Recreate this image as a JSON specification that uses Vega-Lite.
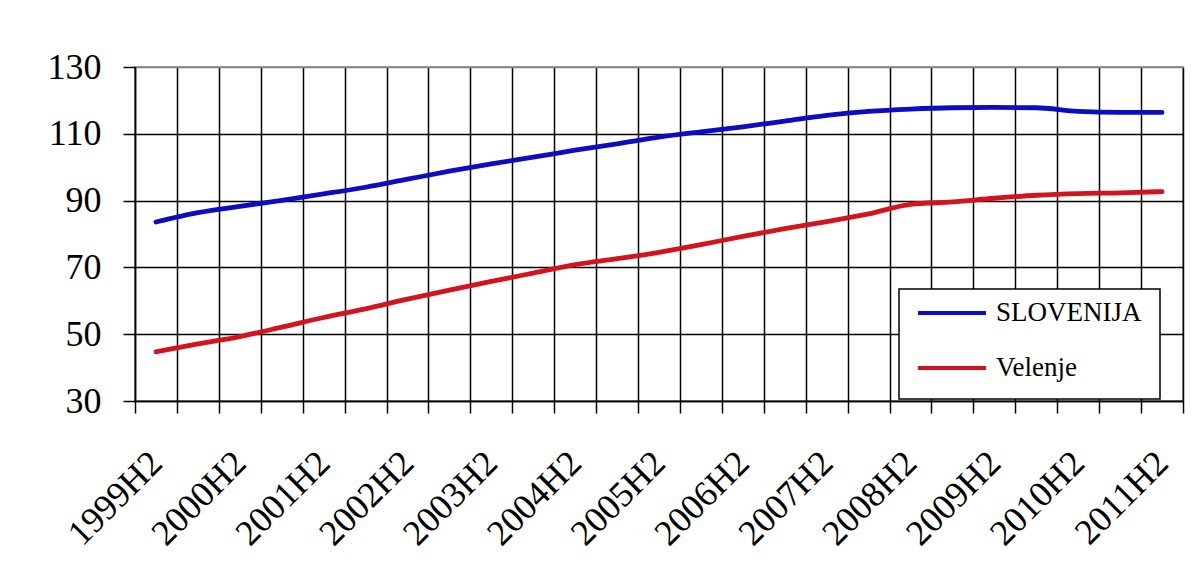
{
  "$schema": "https://vega.github.io/schema/vega-lite/v6.json",
  "width": 1048,
  "height": 334,
  "autosize": {"type": "none"},
  "padding": {"left": 135, "top": 67, "right": 21, "bottom": 187},
  "background": "white",
  "data": {
    "values": [
      {"period": "1999H2", "series": "SLOVENIJA", "value": 83.6},
      {"period": "2000H1", "series": "SLOVENIJA", "value": 86.4},
      {"period": "2000H2", "series": "SLOVENIJA", "value": 88.3},
      {"period": "2001H1", "series": "SLOVENIJA", "value": 90.1},
      {"period": "2001H2", "series": "SLOVENIJA", "value": 92.0},
      {"period": "2002H1", "series": "SLOVENIJA", "value": 94.0},
      {"period": "2002H2", "series": "SLOVENIJA", "value": 96.4},
      {"period": "2003H1", "series": "SLOVENIJA", "value": 98.8},
      {"period": "2003H2", "series": "SLOVENIJA", "value": 101.0},
      {"period": "2004H1", "series": "SLOVENIJA", "value": 103.0},
      {"period": "2004H2", "series": "SLOVENIJA", "value": 105.1},
      {"period": "2005H1", "series": "SLOVENIJA", "value": 107.0},
      {"period": "2005H2", "series": "SLOVENIJA", "value": 109.0},
      {"period": "2006H1", "series": "SLOVENIJA", "value": 110.6},
      {"period": "2006H2", "series": "SLOVENIJA", "value": 112.1},
      {"period": "2007H1", "series": "SLOVENIJA", "value": 113.8},
      {"period": "2007H2", "series": "SLOVENIJA", "value": 115.5},
      {"period": "2008H1", "series": "SLOVENIJA", "value": 116.7},
      {"period": "2008H2", "series": "SLOVENIJA", "value": 117.4},
      {"period": "2009H1", "series": "SLOVENIJA", "value": 117.8},
      {"period": "2009H2", "series": "SLOVENIJA", "value": 117.9},
      {"period": "2010H1", "series": "SLOVENIJA", "value": 117.8},
      {"period": "2010H2", "series": "SLOVENIJA", "value": 116.7},
      {"period": "2011H1", "series": "SLOVENIJA", "value": 116.4},
      {"period": "2011H2", "series": "SLOVENIJA", "value": 116.4},
      {"period": "1999H2", "series": "Velenje", "value": 44.7},
      {"period": "2000H1", "series": "Velenje", "value": 47.1},
      {"period": "2000H2", "series": "Velenje", "value": 49.3},
      {"period": "2001H1", "series": "Velenje", "value": 52.1},
      {"period": "2001H2", "series": "Velenje", "value": 55.0},
      {"period": "2002H1", "series": "Velenje", "value": 57.6},
      {"period": "2002H2", "series": "Velenje", "value": 60.5},
      {"period": "2003H1", "series": "Velenje", "value": 63.2},
      {"period": "2003H2", "series": "Velenje", "value": 65.8},
      {"period": "2004H1", "series": "Velenje", "value": 68.3},
      {"period": "2004H2", "series": "Velenje", "value": 70.8},
      {"period": "2005H1", "series": "Velenje", "value": 72.6},
      {"period": "2005H2", "series": "Velenje", "value": 74.5},
      {"period": "2006H1", "series": "Velenje", "value": 76.8},
      {"period": "2006H2", "series": "Velenje", "value": 79.3},
      {"period": "2007H1", "series": "Velenje", "value": 81.6},
      {"period": "2007H2", "series": "Velenje", "value": 83.7},
      {"period": "2008H1", "series": "Velenje", "value": 86.0},
      {"period": "2008H2", "series": "Velenje", "value": 88.9},
      {"period": "2009H1", "series": "Velenje", "value": 89.6},
      {"period": "2009H2", "series": "Velenje", "value": 90.7},
      {"period": "2010H1", "series": "Velenje", "value": 91.6},
      {"period": "2010H2", "series": "Velenje", "value": 92.1},
      {"period": "2011H1", "series": "Velenje", "value": 92.3},
      {"period": "2011H2", "series": "Velenje", "value": 92.7}
    ]
  },
  "mark": {"type": "line", "strokeWidth": 4.8, "interpolate": "monotone", "strokeCap": "round"},
  "encoding": {
    "x": {
      "field": "period",
      "type": "ordinal",
      "sort": null,
      "scale": {"type": "band", "paddingInner": 0, "paddingOuter": 0},
      "axis": {
        "title": null,
        "tickBand": "extent",
        "grid": true,
        "gridColor": "black",
        "gridWidth": 1.5,
        "domainColor": "black",
        "domainWidth": 1.5,
        "tickColor": "black",
        "tickWidth": 1.5,
        "tickSize": 12,
        "labelExpr": "indexof(datum.label, 'H2') >= 0 ? datum.label : ''",
        "labelAngle": -45,
        "labelAlign": "right",
        "labelBaseline": "middle",
        "labelPadding": 44,
        "labelFont": "Liberation Serif",
        "labelFontSize": 36,
        "labelColor": "black",
        "labelOverlap": false,
        "labelBound": false,
        "labelFlush": false
      }
    },
    "y": {
      "field": "value",
      "type": "quantitative",
      "scale": {"domain": [30, 130], "nice": false, "zero": false},
      "axis": {
        "title": null,
        "values": [30, 50, 70, 90, 110, 130],
        "grid": true,
        "gridColor": {"condition": {"test": "datum.value == 130", "value": "#808080"}, "value": "black"},
        "gridWidth": 1.5,
        "domainColor": "black",
        "domainWidth": 1.5,
        "tickColor": "black",
        "tickWidth": 1.5,
        "tickSize": 12,
        "labelPadding": 22,
        "labelFont": "Liberation Serif",
        "labelFontSize": 36,
        "labelColor": "black"
      }
    },
    "color": {
      "field": "series",
      "type": "nominal",
      "scale": {"domain": ["SLOVENIJA", "Velenje"], "range": ["#0c0cc4", "#d3141e"]},
      "legend": {
        "title": null,
        "orient": "none",
        "legendX": 764,
        "legendY": 222,
        "fillColor": "white",
        "strokeColor": "black",
        "padding": 18,
        "symbolOffset": -1,
        "symbolType": "stroke",
        "symbolSize": 4624,
        "symbolStrokeWidth": 4,
        "clipHeight": 12,
        "rowPadding": 28,
        "labelOffset": 8,
        "labelFont": "Liberation Serif",
        "labelFontSize": 27,
        "labelColor": "black",
        "encode": {"legend": {"update": {"strokeWidth": {"value": 1.5}}}}
      }
    }
  },
  "config": {"view": {"stroke": "#808080", "strokeWidth": 1.5}}
}
